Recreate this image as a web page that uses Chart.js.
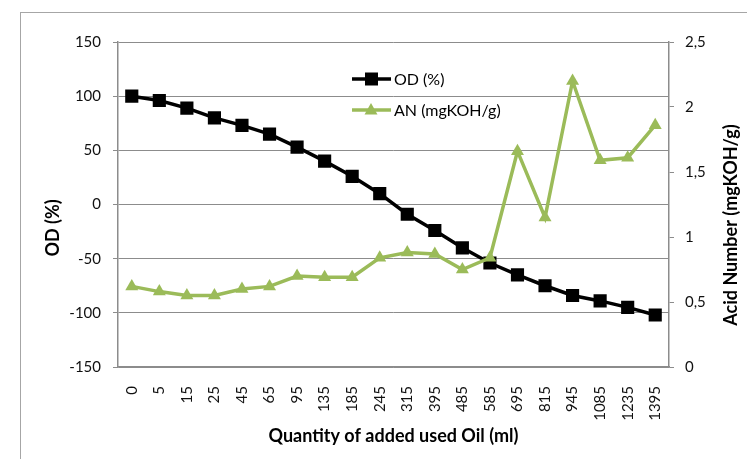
<!DOCTYPE html>
<html lang="en">
  <head>
    <meta charset="UTF-8" />
    <title>OD and Acid Number</title>
    <script src="https://cdn.jsdelivr.net/npm/chart.js"></script>
    <style>
      body {
        margin: 0;
        background: #ffffff;
      }
      canvas {
        display: block;
      }
    </style>
  </head>
  <body>
    <canvas id="odChart" width="747" height="459"></canvas>

    <script>
      // quantity of used oil added (ml)
      const quantities = ["0", "5", "15", "25", "45", "65", "95", "135", "185", "245",
        "315", "395", "485", "585", "695", "815", "945", "1085", "1235", "1395"];

      // OD (%)
      const odValues = [100, 96, 89, 80, 73, 65, 53, 40, 26, 10,
        -9, -24, -40, -54, -65, -75, -84, -89, -95, -102];

      // AN (mgKOH/g)
      const anValues = [0.62, 0.58, 0.55, 0.55, 0.6, 0.62, 0.7, 0.69, 0.69, 0.84,
        0.88, 0.87, 0.75, 0.84, 1.66, 1.15, 2.2, 1.59, 1.61, 1.86];

      const odTicks = [-150, -100, -50, 0, 50, 100, 150];
      const anTicks = [0, 0.5, 1, 1.5, 2, 2.5];

      const GREEN = "#9bbb59";
      const GRID = "#8c8c8c";
      const FONT = "Lato, 'Open Sans', sans-serif";

      // outer frame, y-axis titles and the legend box inside the plot
      const extras = {
        id: "extras",
        beforeDraw(chart) {
          const ctx = chart.ctx;
          ctx.save();
          ctx.strokeStyle = "#a6a6a6";
          ctx.lineWidth = 1;
          ctx.strokeRect(20.5, 12.5, 800, 500);
          ctx.restore();
        },
        afterDraw(chart) {
          const ctx = chart.ctx;
          ctx.save();
          ctx.fillStyle = "#000";
          ctx.font = "bold 18px " + FONT;
          ctx.textAlign = "center";
          ctx.textBaseline = "middle";

          ctx.save();
          ctx.translate(53, 228);
          ctx.rotate(-Math.PI / 2);
          ctx.fillText("OD (%)", 0, 0);
          ctx.restore();

          ctx.save();
          ctx.translate(731, 225);
          ctx.rotate(-Math.PI / 2);
          ctx.fillText("Acid Number (mgKOH/g)", 0, 0);
          ctx.restore();

          // legend
          const rows = [
            { label: chart.data.datasets[0].label, color: "#000", y: 79, shape: "rect" },
            { label: chart.data.datasets[1].label, color: GREEN, y: 110, shape: "tri" },
          ];
          ctx.font = "16px " + FONT;
          ctx.textAlign = "left";
          rows.forEach((r) => {
            ctx.strokeStyle = r.color;
            ctx.fillStyle = r.color;
            ctx.lineWidth = 3.5;
            ctx.beginPath();
            ctx.moveTo(352, r.y);
            ctx.lineTo(391, r.y);
            ctx.stroke();
            ctx.beginPath();
            if (r.shape === "rect") {
              ctx.rect(365, r.y - 6.5, 13, 13);
            } else {
              ctx.moveTo(371, r.y - 7);
              ctx.lineTo(377.5, r.y + 4.5);
              ctx.lineTo(364.5, r.y + 4.5);
              ctx.closePath();
            }
            ctx.fill();
            ctx.fillStyle = "#000";
            ctx.fillText(r.label, 394, r.y + 1);
          });
          ctx.restore();
        },
      };

      new Chart(document.getElementById("odChart"), {
        type: "line",
        data: {
          labels: quantities,
          datasets: [
            {
              label: "OD (%)",
              data: odValues,
              yAxisID: "y",
              borderColor: "#000",
              backgroundColor: "#000",
              borderWidth: 3.5,
              pointStyle: "rect",
              pointRadius: 9.3,
              pointBorderWidth: 0,
              tension: 0,
              order: 2,
            },
            {
              label: "AN (mgKOH/g)",
              data: anValues,
              yAxisID: "y1",
              borderColor: GREEN,
              backgroundColor: GREEN,
              borderWidth: 3.5,
              pointStyle: "triangle",
              pointRadius: 7.5,
              pointBorderWidth: 0,
              tension: 0,
              order: 1,
            },
          ],
        },
        options: {
          responsive: false,
          animation: false,
          layout: { padding: { top: 42, left: 0, right: 0, bottom: 0 } },
          plugins: {
            legend: { display: false },
            tooltip: { enabled: false },
          },
          scales: {
            x: {
              offset: true,
              grid: { display: false, drawTicks: false, offset: true },
              border: { display: true, color: GRID, width: 1.5 },
              ticks: {
                autoSkip: false,
                minRotation: 90,
                maxRotation: 90,
                padding: 19,
                color: "#111",
                font: { family: FONT, size: 15 },
              },
              title: {
                display: true,
                text: "Quantity of added used Oil (ml)",
                color: "#000",
                font: { family: FONT, size: 18, weight: "bold" },
                padding: { top: 0, bottom: 12 },
              },
              afterFit(s) {
                s.height = 92;
              },
            },
            y: {
              position: "left",
              min: -150,
              max: 150,
              afterBuildTicks(s) {
                s.ticks = odTicks.map((v) => ({ value: v }));
              },
              grid: { color: GRID, lineWidth: 1, tickLength: 5 },
              border: { display: true, color: GRID, width: 1.5 },
              ticks: {
                padding: 12,
                color: "#111",
                font: { family: FONT, size: 15 },
              },
              afterFit(s) {
                s.width = 118;
              },
            },
            y1: {
              position: "right",
              min: 0,
              max: 2.5,
              afterBuildTicks(s) {
                s.ticks = anTicks.map((v) => ({ value: v }));
              },
              grid: { drawOnChartArea: false, color: GRID, tickLength: 5 },
              border: { display: true, color: GRID, width: 1.5 },
              ticks: {
                padding: 11,
                color: "#111",
                font: { family: FONT, size: 15 },
                callback: (v) => String(v).replace(".", ","),
              },
              afterFit(s) {
                s.width = 78;
              },
            },
          },
        },
        plugins: [extras],
      });
    </script>
  </body>
</html>
